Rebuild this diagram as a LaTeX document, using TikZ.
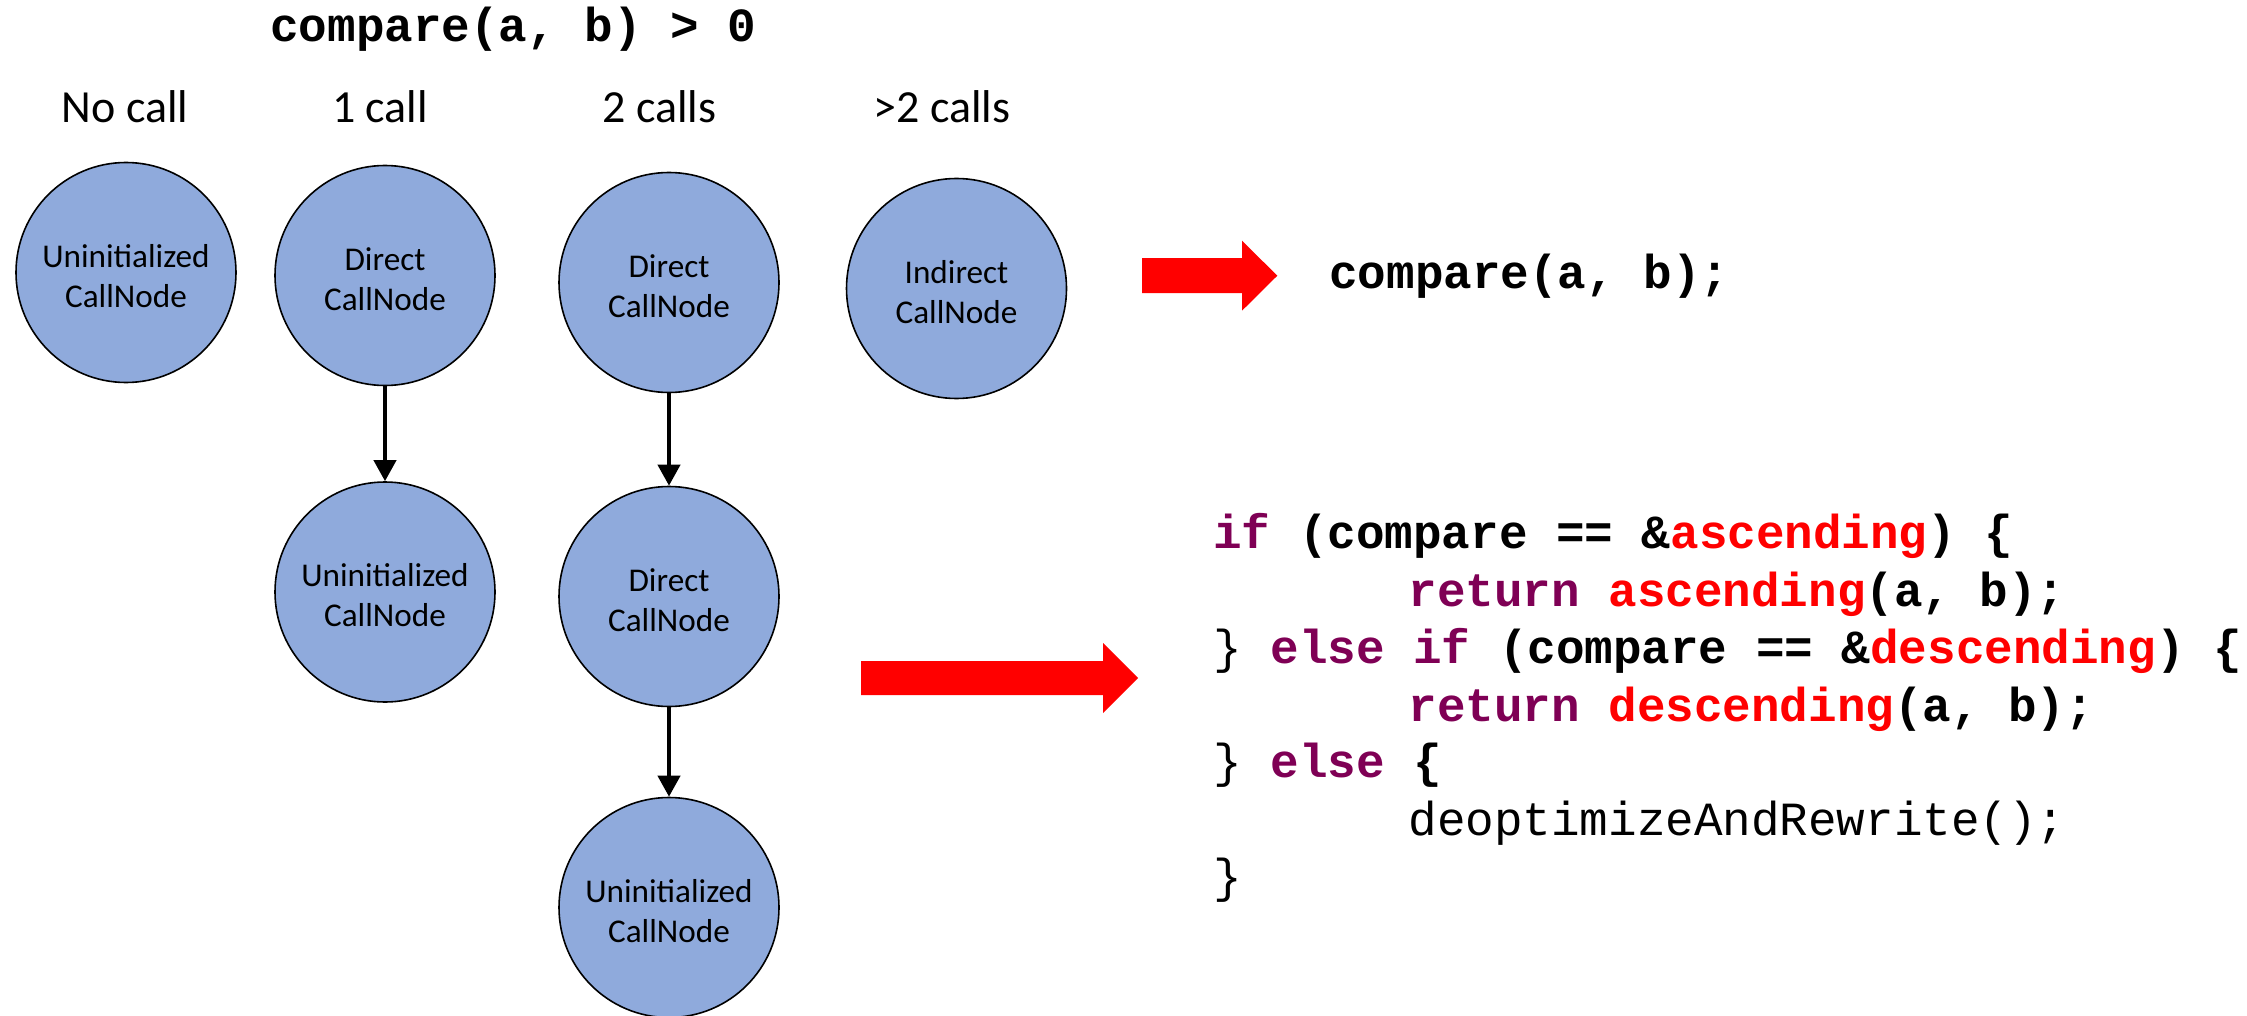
\documentclass[tikz,border=0pt]{standalone}
\usepackage{fontspec}
\usetikzlibrary{arrows.meta}
\newfontfamily\calfont{Carlito}
\newfontfamily\monofont{Liberation Mono}
\definecolor{nodeblue}{HTML}{8FAADC}
\definecolor{kwpurple}{HTML}{7F0055}
\definecolor{fred}{HTML}{FF0000}
\newcommand\kw[1]{\textcolor{kwpurple}{\bfseries #1}}
\newcommand\rd[1]{\textcolor{fred}{\bfseries #1}}
\newcommand\bk[1]{{\bfseries #1}}
\newcommand\ind{\hspace*{4.1em}}
\tikzset{
  circ/.style={circle, draw=black, line width=0.8pt, fill=nodeblue,
    minimum size=110pt, inner sep=0pt, align=center,
    font=\calfont\fontsize{16.6}{20}\selectfont},
  hdr/.style={anchor=base, inner sep=0pt, font=\calfont\fontsize{23}{28}\selectfont},
  codeline/.style={anchor=base west, inner sep=0pt, font=\monofont\fontsize{23.8}{28}\selectfont},
  callarrow/.style={line width=2pt, -{Triangle[length=10.5pt,width=11pt]}},
  blockarrow/.style={fill=fred, draw=none}
}
\newcommand\lbl[1]{\rule{0pt}{15pt}#1\\CallNode}
\begin{document}
\begin{tikzpicture}[x=0.5pt,y=-0.5pt]
\useasboundingbox (0,0) rectangle (2247,1016);
% title and headers
\node[codeline] (title) at (270,42) {\bfseries compare(a, b) > 0};
\node[hdr] (h1) at (125,123) {No call};
\node[hdr] (h2) at (380,123) {1 call};
\node[hdr] (h3) at (659.5,123) {2 calls};
\node[hdr] (h4) at (942,123) {>2 calls};
% call nodes
\node[circ] (c1) at (126,272.5) {\lbl{Uninitialized}};
\node[circ] (c2) at (385,275.5) {\lbl{Direct}};
\node[circ] (c2b) at (385,592) {\lbl{Uninitialized}};
\node[circ] (c3) at (669,282.5) {\lbl{Direct}};
\node[circ] (c3b) at (669,596.5) {\lbl{Direct}};
\node[circ] (c3c) at (669,907.5) {\lbl{Uninitialized}};
\node[circ] (c4) at (956.5,288.5) {\lbl{Indirect}};
\draw[callarrow] (c2) -- (c2b);
\draw[callarrow] (c3) -- (c3b);
\draw[callarrow] (c3b) -- (c3c);
% red block arrows
\fill[blockarrow] (1142,258.2) -- (1242,258.2) -- (1242,240.7) -- (1277.3,275.7)
  -- (1242,310.7) -- (1242,293.2) -- (1142,293.2) -- cycle;
\fill[blockarrow] (861,661) -- (1103,661) -- (1103,643) -- (1138,678)
  -- (1103,713) -- (1103,695) -- (861,695) -- cycle;
% code
\node[codeline] (direct) at (1329,288) {\bfseries compare(a, b);};
\node[codeline] (l1) at (1213,548) {\kw{if} \bk{(compare == \&}\rd{ascending}\bk{) \{}};
\node[codeline] (l2) at (1213,606) {\ind\kw{return} \rd{ascending}\bk{(a, b);}};
\node[codeline] (l3) at (1213,663) {\} \kw{else if} \bk{(compare == \&}\rd{descending}\bk{) \{}};
\node[codeline] (l4) at (1213,721) {\ind\kw{return} \rd{descending}\bk{(a, b);}};
\node[codeline] (l5) at (1213,777) {\} \kw{else} \bk{\{}};
\node[codeline] (l6) at (1213,835) {\ind deoptimizeAndRewrite();};
\node[codeline] (l7) at (1213,892) {\}};
\end{tikzpicture}
\end{document}
